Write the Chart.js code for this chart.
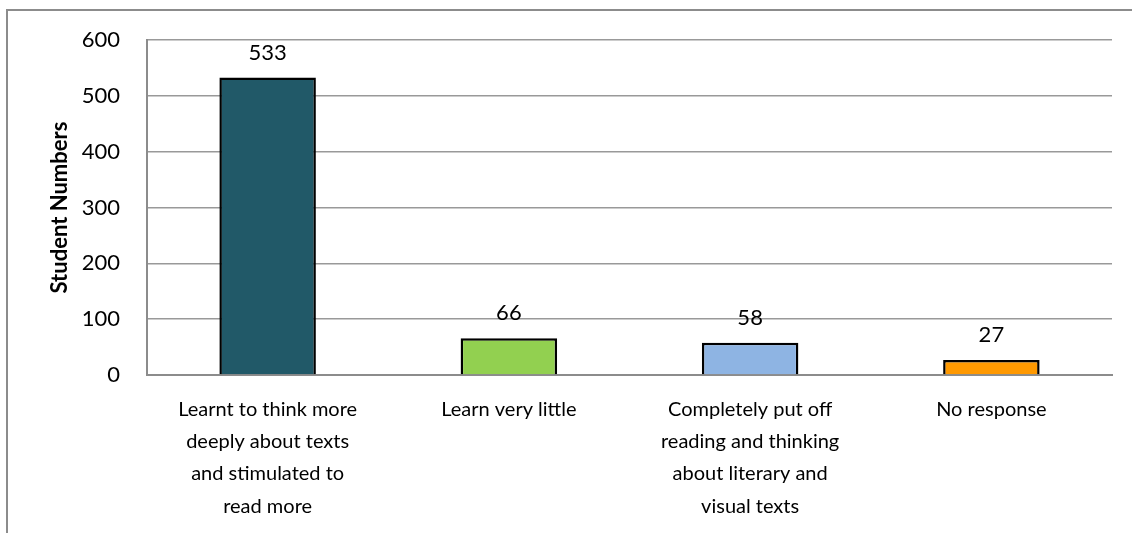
<!DOCTYPE html>
<html>
<head>
<meta charset="utf-8">
<script src="https://cdn.jsdelivr.net/npm/chart.js@4/dist/chart.umd.min.js"></script>
<style>
  html, body { margin: 0; padding: 0; background: #fff; overflow: hidden; }
  #frame {
    position: absolute; left: 6px; top: 9px; width: 1300px; height: 700px;
    border-left: 2px solid #8c8c8c; border-top: 2px solid #8c8c8c;
  }
  #wrap { position: absolute; left: 0; top: 0; width: 1132px; height: 533px; }
</style>
</head>
<body>
<div id="frame"></div>
<div id="wrap"><canvas id="chart"></canvas></div>
<script>
// Chart data
const categories = [
    ['Learnt to think more', 'deeply about texts', 'and stimulated to', 'read more'],
    ['Learn very little'],
    ['Completely put off', 'reading and thinking', 'about literary and', 'visual texts'],
    ['No response']
];
const studentNumbers = [533, 66, 58, 27];
const barColors = ['#215968', '#92D050', '#8EB4E3', '#FF9900'];

const FONT = "Lato, 'Open Sans', sans-serif";

// Value labels above each bar
const valueLabels = {
    id: 'valueLabels',
    afterDatasetsDraw(chart) {
        const ctx = chart.ctx;
        const meta = chart.getDatasetMeta(0);
        ctx.save();
        ctx.font = '22px ' + FONT;
        ctx.fillStyle = '#000';
        ctx.textAlign = 'center';
        ctx.textBaseline = 'middle';
        meta.data.forEach(function(bar, i) {
            ctx.fillText(String(studentNumbers[i]), bar.x, bar.y - 25);
        });
        ctx.restore();
    }
};

const ctx = document.getElementById('chart').getContext('2d');
new Chart(ctx, {
    type: 'bar',
    data: {
        labels: categories,
        datasets: [{
            data: studentNumbers,
            backgroundColor: barColors,
            borderColor: '#000',
            borderWidth: 2.5,
            barPercentage: 0.4,
            categoryPercentage: 1.0
        }]
    },
    options: {
        responsive: true,
        maintainAspectRatio: false,
        animation: false,
        layout: { padding: { top: 40, right: 20, left: 0, bottom: 0 } },
        plugins: {
            legend: { display: false },
            tooltip: { enabled: false }
        },
        scales: {
            x: {
                grid: { display: false, drawTicks: false },
                border: { color: '#8c8c8c', width: 2 },
                ticks: {
                    color: '#000',
                    font: { family: FONT, size: 20, lineHeight: 1.62 },
                    padding: 18,
                    maxRotation: 0,
                    autoSkip: false
                },
                afterFit: function(scale) { scale.height = 158; }
            },
            y: {
                min: 0,
                max: 600,
                grid: { color: '#999', lineWidth: 1.5, drawTicks: false },
                border: { color: '#8c8c8c', width: 2 },
                ticks: {
                    stepSize: 100,
                    color: '#000',
                    font: { family: FONT, size: 22 },
                    padding: 27
                },
                title: {
                    display: true,
                    text: 'Student Numbers',
                    color: '#000',
                    font: { family: FONT, size: 22, weight: 'bold' },
                    padding: { top: 47, bottom: 0 }
                },
                afterFit: function(scale) { scale.width = 147; }
            }
        }
    },
    plugins: [valueLabels]
});
</script>
</body>
</html>
